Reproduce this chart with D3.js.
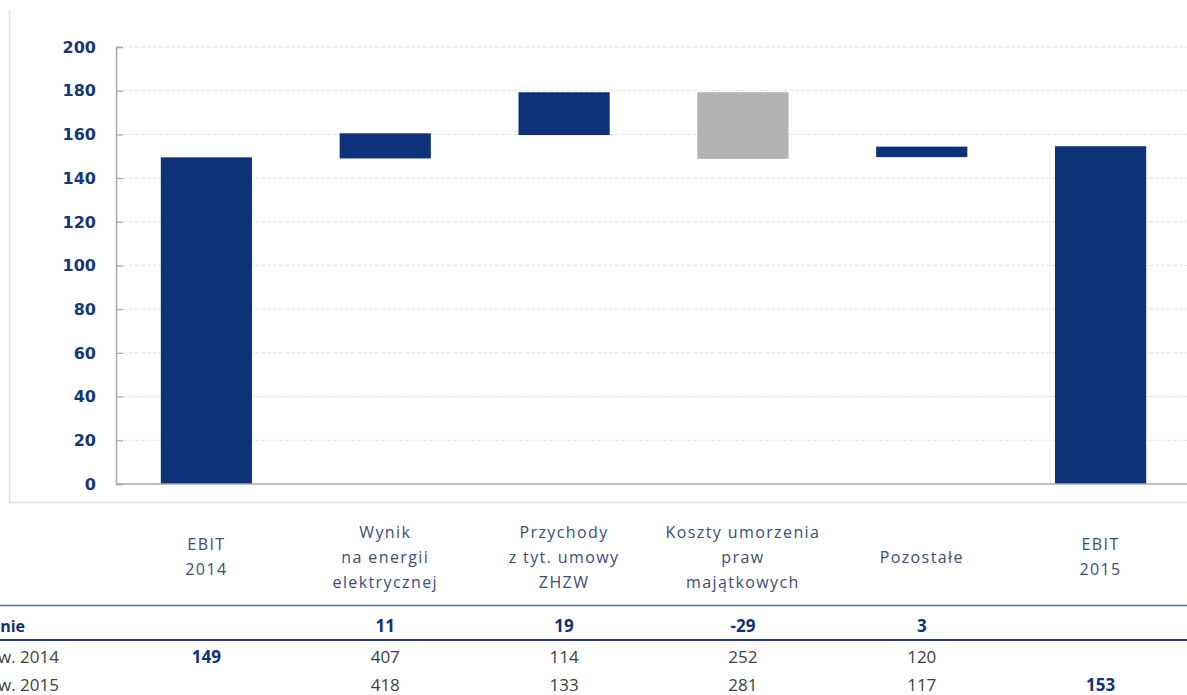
<!DOCTYPE html>
<html><head><meta charset="utf-8">
<script src="https://cdn.jsdelivr.net/npm/d3@7"></script>
<style>
html,body{margin:0;padding:0;background:#fff;overflow:hidden;}
svg{display:block;}
</style></head>
<body>
<svg id="chart" width="1187" height="695"></svg>
<script>
// ---- data ----
const categories = [
  ["EBIT","2014"],
  ["Wynik","na energii","elektrycznej"],
  ["Przychody","z tyt. umowy","ZHZW"],
  ["Koszty umorzenia","praw","majątkowych"],
  ["Pozostałe"],
  ["EBIT","2015"]
];
const barLow  = [0,     149,   159.7, 148.8, 149.6, 0];
const barHigh = [149.5, 160.5, 179.3, 179.3, 154.4, 154.6];
const barKind = ["total","up","up","down","up","total"];
const yTicks = [0,20,40,60,80,100,120,140,160,180,200];

const rowLabels = ["Odchylenie","Wykonanie w. 2014","Wykonanie w. 2015"];
const rowChange = ["","11","19","-29","3",""];
const row2014   = ["149","407","114","252","120",""];
const row2015   = ["","418","133","281","117","153"];
const rowBold   = [[1,1,1,1,1,1],[1,0,0,0,0,0],[0,0,0,0,0,1]];

// ---- styles ----
const NAVY = "#0e3279", GREY_BAR = "#b2b2b2", TXT = "#3a4c7c", DARK = "#404040";

const svg = d3.select("#chart");
const W = 1187;

const x = d3.scaleBand().domain(d3.range(categories.length))
  .range([117, 1190]).paddingInner(0.49).paddingOuter(0.245);
const y = d3.scaleLinear().domain([0,200]).range([484, 47]);

// chart border (left + bottom)
svg.append("path").attr("d", `M9.5,10V502.5H${W}`)
  .attr("fill","none").attr("stroke","#e3e3e3").attr("stroke-width",1.5);

// gridlines
svg.append("g").selectAll("line").data(yTicks.filter(d=>d>0)).join("line")
  .attr("x1",117).attr("x2",W).attr("y1",d=>y(d)).attr("y2",d=>y(d))
  .attr("stroke","#e2e2e2").attr("stroke-width",1).attr("stroke-dasharray","4,2");

// y axis
const yAxis = d3.axisRight(y).tickValues(yTicks).tickSize(7).tickFormat("");
const ga = svg.append("g").attr("transform","translate(116,0)").call(yAxis);
ga.select(".domain").attr("stroke","#a9a9a9").attr("stroke-width",1.5);
ga.selectAll(".tick line").attr("stroke","#a9a9a9").attr("stroke-width",1.2);

svg.append("g").selectAll("text").data(yTicks).join("text")
  .attr("x",96).attr("y",d=>y(d)).attr("dy","0.36em").attr("text-anchor","end")
  .attr("font-family","'DejaVu Sans', Verdana, sans-serif").attr("font-weight","bold")
  .attr("font-size",16).attr("fill","#16367a").text(d=>d);

// bars
svg.append("g").selectAll("rect").data(d3.range(categories.length)).join("rect")
  .attr("x",i=>x(i)).attr("width",x.bandwidth())
  .attr("y",i=>y(Math.max(barLow[i],barHigh[i])))
  .attr("height",i=>Math.abs(y(barLow[i])-y(barHigh[i])))
  .attr("fill",i=>barKind[i]==="down"?GREY_BAR:NAVY);

// baseline
svg.append("line").attr("x1",116).attr("x2",W).attr("y1",y(0)).attr("y2",y(0))
  .attr("stroke","#a9a9a9").attr("stroke-width",1.5);

// category labels
const lh = 25;
categories.forEach((lines,i)=>{
  const cx = x(i)+x.bandwidth()/2;
  const t = svg.append("text").attr("text-anchor","middle")
    .attr("font-family","'Open Sans', sans-serif").attr("font-size",16)
    .attr("letter-spacing","1.4px").attr("fill",TXT);
  const y0 = 557 - (lines.length-1)*lh/2;
  lines.forEach((s,k)=>{
    t.append("tspan").attr("x",cx).attr("y",y0+k*lh).attr("dy","0.35em").text(s);
  });
});

// table lines
svg.append("line").attr("x1",0).attr("x2",W).attr("y1",605.5).attr("y2",605.5)
  .attr("stroke","#5470aa").attr("stroke-width",1.5);
svg.append("line").attr("x1",0).attr("x2",W).attr("y1",640).attr("y2",640)
  .attr("stroke","#1f3c84").attr("stroke-width",2.2);

// table rows
const rows = [rowChange,row2014,row2015];
const rowY = [626,657,685];
const labelEnd = [25,59,59];
rows.forEach((row,r)=>{
  svg.append("text").attr("x",labelEnd[r]).attr("y",rowY[r]).attr("dy","0.36em")
    .attr("text-anchor","end").attr("font-family","'Open Sans', sans-serif")
    .attr("font-size",r===0?16:17).attr("font-weight",r===0?"bold":"normal")
    .attr("fill",r===0?NAVY:DARK).text(rowLabels[r]);
  svg.append("g").selectAll("text").data(row).join("text")
    .attr("x",(d,i)=>x(i)+x.bandwidth()/2).attr("y",rowY[r]).attr("dy","0.36em")
    .attr("text-anchor","middle").attr("font-family","'Open Sans', sans-serif")
    .attr("font-size",17)
    .attr("font-weight",(d,i)=>rowBold[r][i]?"bold":"normal")
    .attr("fill",(d,i)=>rowBold[r][i]?NAVY:DARK)
    .text(d=>d);
});
</script>
</body></html>
